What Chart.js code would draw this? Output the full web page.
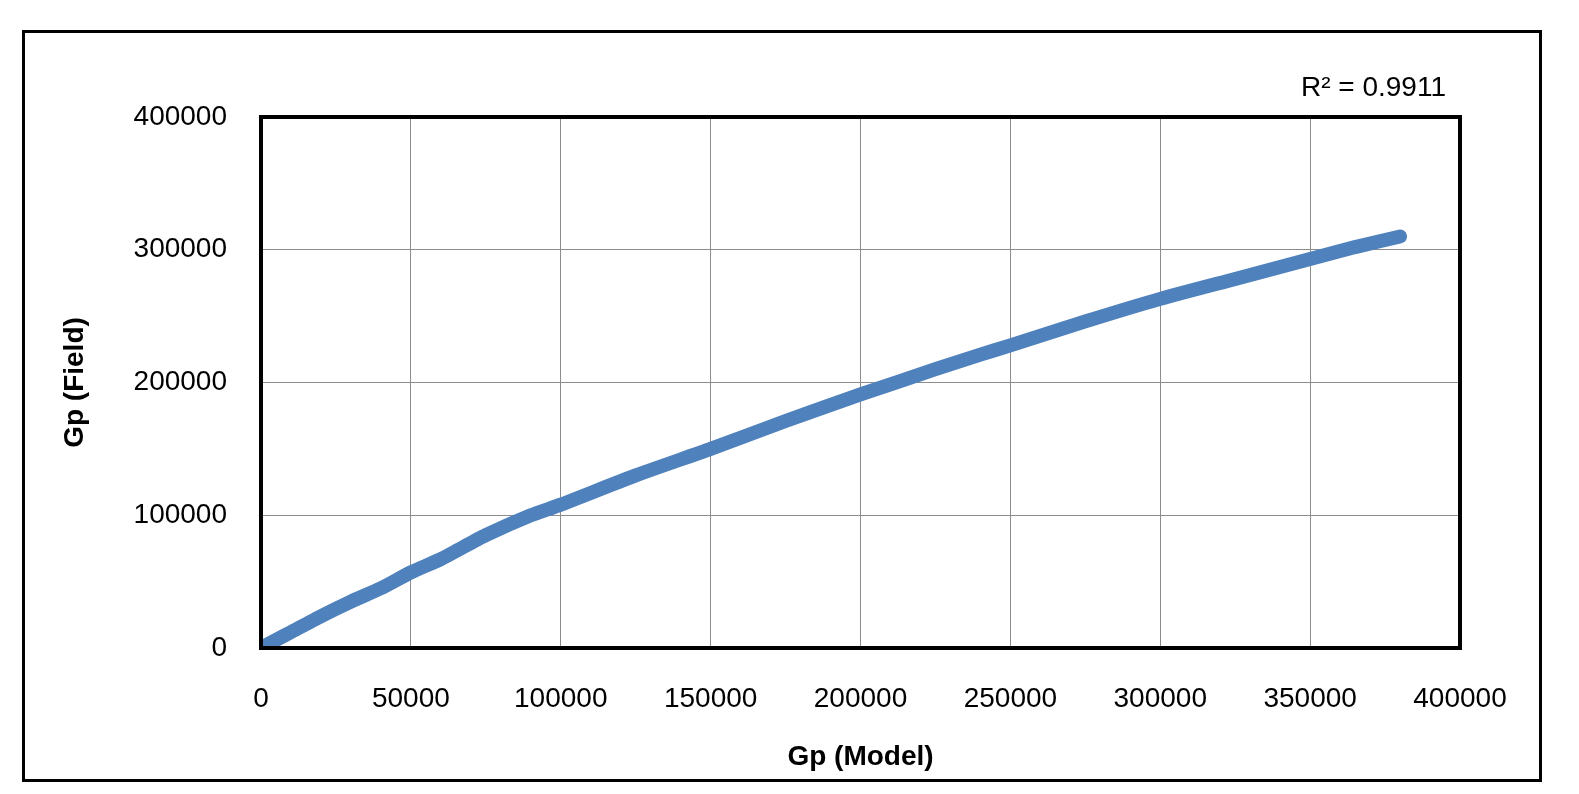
<!DOCTYPE html>
<html><head><meta charset="utf-8">
<script src="https://cdn.jsdelivr.net/npm/chart.js@4"></script>
<style>html,body{margin:0;background:#fff}#w{width:1579px;height:794px;position:relative}</style>
</head><body><div id="w"><canvas id="c"></canvas></div>
<script>
const modelGp = [0,5000,10000,20000,30000,40000,50000,60000,65000,75000,90000,100000,125000,150000,175000,200000,225000,240000,250000,275000,300000,325000,350000,365000,380000];
const fieldGp = [0,6000,12000,24000,35000,45000,57000,67000,73000,85000,100000,108000,130000,150000,171000,191000,210000,221000,228000,246000,263000,278000,293000,302000,310000];
const xTicks = [0,50000,100000,150000,200000,250000,300000,350000,400000];
const yTicks = [0,100000,200000,300000,400000];
const r2Label = 'R² = 0.9911';
const FONT = '"Liberation Sans", Arial';

const frame = {id:'frame', afterDraw(ch){const g=ch.ctx;g.save();g.strokeStyle='#000';g.lineWidth=3;g.strokeRect(23.5,31.5,1517,749);
 const a=ch.chartArea;g.lineWidth=4;g.strokeRect(a.left,a.top,a.right-a.left,a.bottom-a.top);
 g.fillStyle='#000';g.font='28px '+FONT;g.textAlign='right';g.textBaseline='middle';g.fillText(r2Label,1446,88);g.restore();}};

new Chart(document.getElementById('c'),{type:'scatter',
 data:{datasets:[{data:modelGp.map((x,i)=>({x,y:fieldGp[i]})),showLine:true,borderColor:'#4f81bd',backgroundColor:'#4f81bd',borderWidth:14,borderCapStyle:'round',borderJoinStyle:'round',pointRadius:0,tension:0.2}]},
 options:{responsive:true,maintainAspectRatio:false,animation:false,
  layout:{padding:{left:0,right:119,top:117,bottom:0}},
  plugins:{legend:{display:false},tooltip:{enabled:false}},
  scales:{
   x:{type:'linear',min:0,max:400000,afterBuildTicks(s){s.ticks=xTicks.map(v=>({value:v}));},afterFit(s){s.height=146;},
    grid:{color:'#8c8c8c',lineWidth:1,tickLength:0},border:{display:false},
    ticks:{color:'#000',font:{size:28,family:FONT},padding:34,maxRotation:0,callback:v=>String(v)},
    title:{display:true,text:'Gp (Model)',color:'#000',font:{size:28,weight:'bold',family:FONT},padding:{top:0,bottom:20}}},
   y:{type:'linear',min:0,max:400000,afterBuildTicks(s){s.ticks=yTicks.map(v=>({value:v}));},afterFit(s){s.width=261;},
    grid:{color:'#8c8c8c',lineWidth:1,tickLength:0},border:{display:false},
    ticks:{color:'#000',font:{size:28,family:FONT},padding:34,callback:v=>String(v)},
    title:{display:true,text:'Gp (Field)',color:'#000',font:{size:28,weight:'bold',family:FONT},padding:{top:58,bottom:0}}}
  }},plugins:[frame]});
</script></body></html>
